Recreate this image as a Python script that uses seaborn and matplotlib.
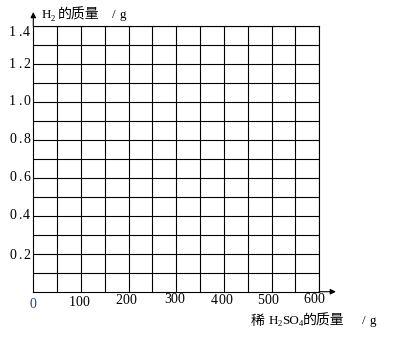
import matplotlib
matplotlib.use("Agg")
import matplotlib.pyplot as plt
import matplotlib.transforms as mtrans
import seaborn as sns

# ---- data ----
x_tick_values = [100, 200, 300, 400, 500, 600]
x_tick_labels = ["100", "200", "300", "400", "500", "600"]
y_tick_values = [0.2, 0.4, 0.6, 0.8, 1.0, 1.2, 1.4]
y_tick_labels = ["0.2", "0.4", "0.6", "0.8", "1.0", "1.2", "1.4"]
x_grid_values = [50, 100, 150, 200, 250, 300, 350, 400, 450, 500, 550, 600]
y_grid_values = [0.1, 0.2, 0.3, 0.4, 0.5, 0.6, 0.7, 0.8, 0.9, 1.0, 1.1, 1.2, 1.3, 1.4]
origin_label = "0"
x_max = 600
y_max = 1.4
# axis titles as (text, kind) pieces: "lat" Latin, "sub" subscript, "cjk" Chinese
y_title_pieces = [("H", "lat"), ("2", "sub"), ("的质量", "cjk"), ("/", "lat"), ("g", "lat")]
x_title_pieces = [("稀", "cjk"), ("H", "lat"), ("2", "sub"), ("SO", "lat"), ("4", "sub"),
                  ("的质量", "cjk"), ("/", "lat"), ("g", "lat")]

# ---- layout (pixels) ----
W, H = 393, 338
left_px, bottom_px, right_px, top_px = 33.3, 291.7, 319.3, 26.1
x_label_nudge = [(-1.7, 10.5), (-2.9, 9.0), (-2.0, 7.6), (-2.3, 8.8), (-3.9, 9.0), (-5.3, 7.6)]
y_label_nudge = [2, 0, 0, 0, 0, 0, 6.5]
# start x of each title piece; None = continue right after the previous piece
y_title_x = [41.7, None, 57.5, 112.0, 120.0]
y_title_base = 18.4
x_title_x = [251.0, 268.3, None, None, None, None, 362.3, 370.0]
x_title_base = 324.0
char_adv = 7.0  # fixed advance for tick-label characters

# ---- style ----
sns.set_theme(style="white")
plt.rcParams["font.family"] = ["Liberation Serif", "Noto Sans CJK SC", "DejaVu Sans"]

fig = plt.figure(figsize=(W / 100, H / 100), dpi=100)
ax = fig.add_axes([left_px / W, 1 - bottom_px / H,
                   (right_px - left_px) / W, (bottom_px - top_px) / H])
ax.set_xlim(0, x_max)
ax.set_ylim(0, y_max)
ax.set_xticks(x_grid_values)
ax.set_yticks(y_grid_values)
ax.tick_params(length=0, labelbottom=False, labelleft=False)
ax.grid(True, color="black", linewidth=0.8)
ax.set_axisbelow(False)
for sp in ax.spines.values():
    sp.set_color("black")
    sp.set_linewidth(0.8)

fs = 10


def spaced_label(xd, yd, lbl, dx, dy, align, color="black"):
    """Draw a tick label with fixed character advance (like a half-width CJK font)."""
    n = len(lbl)
    total = n * char_adv
    start = -total / 2 if align == "center" else -total
    for i, ch in enumerate(lbl):
        off = mtrans.offset_copy(ax.transData, fig=fig,
                                 x=dx + start + (i + 0.5) * char_adv, y=-dy, units="dots")
        ax.text(xd, yd, ch, transform=off, ha="center", va="center",
                fontsize=fs, color=color, clip_on=False)


for v, lbl, (dx, dy) in zip(x_tick_values, x_tick_labels, x_label_nudge):
    spaced_label(v, 0, lbl, dx, dy, "center")
spaced_label(0, 0, origin_label, -0.8, 13.3, "center", color="#1c3f94")
for v, lbl, dy in zip(y_tick_values, y_tick_labels, y_label_nudge):
    spaced_label(0, v, lbl, -3.2, dy, "right")

arrow_kw = dict(arrowstyle="-|>", color="black", lw=0.8, mutation_scale=8,
                shrinkA=0, shrinkB=0)
ax.annotate("", xy=(0, y_max * 1.053), xytext=(0, y_max),
            arrowprops=arrow_kw, annotation_clip=False)
ax.annotate("", xy=(x_max * 1.058, 0), xytext=(x_max, 0),
            arrowprops=arrow_kw, annotation_clip=False)

renderer = fig.canvas.get_renderer()
style = {
    "lat": dict(family="Liberation Serif", size=9.4, dy=0),
    "sub": dict(family="Liberation Serif", size=6.2, dy=-2.2),
    "cjk": dict(family="Noto Sans CJK SC", size=10, dy=-0.6),
}


def rich_text(xs, base_px, pieces):
    cur = 0.0
    for x, (txt, kind) in zip(xs, pieces):
        st = style[kind]
        if x is None:
            x = cur
        t = fig.text(x / W, 1 - (base_px - st["dy"]) / H, txt, ha="left",
                     va="baseline", fontsize=st["size"], family=st["family"],
                     color="black")
        cur = x + t.get_window_extent(renderer).width


rich_text(y_title_x, y_title_base, y_title_pieces)
rich_text(x_title_x, x_title_base, x_title_pieces)

fig.savefig("out.png", dpi=100, facecolor="white")
